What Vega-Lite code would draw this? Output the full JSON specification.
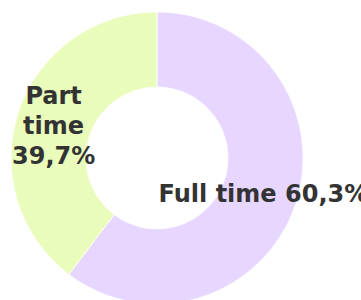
{
  "$schema": "https://vega.github.io/schema/vega-lite/v6.json",
  "width": 314,
  "height": 316,
  "autosize": "none",
  "padding": {"left": 0, "top": 0, "right": 47, "bottom": 0},
  "background": "white",
  "view": {"stroke": null},
  "data": {
    "values": [
      {"category": "Full time", "share": 60.3, "idx": 1, "labelA": "Full time 60,3%", "labelB": ""},
      {"category": "Part time", "share": 39.7, "idx": 2, "labelA": "", "labelB": "Part\ntime\n39,7%"}
    ]
  },
  "encoding": {
    "theta": {"field": "share", "type": "quantitative", "stack": true},
    "order": {"field": "idx", "type": "quantitative"}
  },
  "layer": [
    {
      "mark": {"type": "arc", "outerRadius": 146, "innerRadius": 71, "stroke": "white", "strokeWidth": 0.7},
      "encoding": {
        "color": {
          "field": "category",
          "type": "nominal",
          "scale": {"domain": ["Full time", "Part time"], "range": ["#E7D6FF", "#EAFCBC"]},
          "legend": null
        }
      }
    },
    {
      "mark": {"type": "text", "radius": 108, "dx": 4, "dy": 3, "font": "DejaVu Sans", "fontWeight": "bold", "fontSize": 24, "color": "#333333", "align": "center", "baseline": "middle"},
      "encoding": {
        "text": {"field": "labelA", "type": "nominal"}
      }
    },
    {
      "mark": {"type": "text", "radius": 108, "dx": -1, "dy": -27, "font": "DejaVu Sans", "fontWeight": "bold", "fontSize": 24, "color": "#333333", "lineBreak": "\n", "lineHeight": 30, "align": "center", "baseline": "middle"},
      "encoding": {
        "text": {"field": "labelB", "type": "nominal"}
      }
    }
  ]
}
